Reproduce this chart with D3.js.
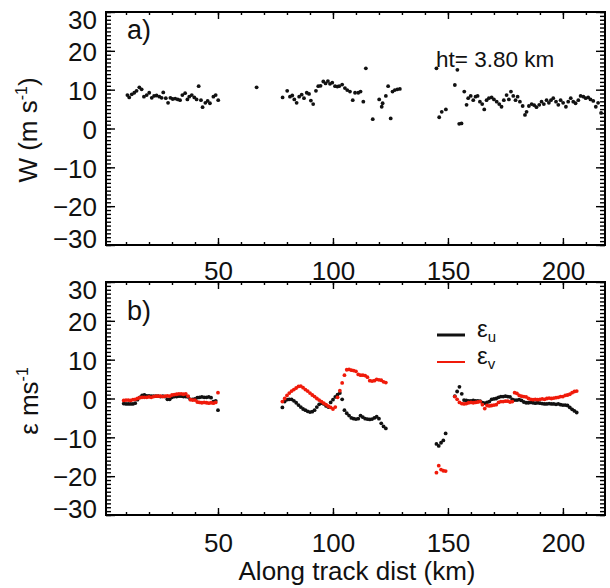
<!DOCTYPE html>
<html lang="en">
<head>
<meta charset="UTF-8">
<title>W and epsilon along track</title>
<script src="https://d3js.org/d3.v7.min.js"></script>
<style>
  body { margin: 0; background: #fff; }
  svg { display: block; font-family: "Liberation Sans", Arial, sans-serif; }
  .frame { fill: none; stroke: #000; stroke-width: 2; }
  .tick line { stroke: #000; stroke-width: 1.4; }
  .tick text { font-size: 26px; fill: #111; font-family: "Liberation Sans", Arial, sans-serif; }
  .lab { font-size: 26px; fill: #111; }
</style>
</head>
<body>
<svg width="610" height="588"></svg>
<script>
// panel a) vertical wind W at ht = 3.80 km
const wDist = [10.6, 11.4, 12.5, 13.6, 14.6, 15.8, 16.8, 17.8, 19.0, 20.1, 21.2, 22.2, 23.3, 24.5, 25.5,
  26.2, 27.3, 28.3, 29.3, 30.3, 31.4, 32.5, 33.5, 34.5, 35.7, 36.7, 37.5, 38.6, 39.7, 40.7,
  41.6, 42.6, 43.3, 44.5, 45.5, 46.5, 48.0, 49.0, 50.1,
  66.8,
  78.1, 80.1, 81.3, 82.3, 83.2, 84.2, 85.3, 86.4, 87.4, 88.6, 89.6, 90.4, 91.4, 92.6, 93.6,
  94.6, 95.8, 96.8, 97.8, 98.7, 99.7, 100.9, 101.9, 102.7, 104.0, 105.2, 106.2, 107.4, 108.6, 109.6,
  111.0, 112.0, 113.2, 114.3, 117.3, 120.1, 121.2, 121.6, 123.0, 124.0, 125.1, 125.9, 126.9, 128.0, 129.1,
  145.0, 146.2, 147.3, 149.1, 153.0, 154.1, 154.9, 155.9, 157.1, 158.1, 158.8, 159.9, 161.0, 162.0, 162.9,
  163.9, 164.9, 165.8, 166.8, 167.8, 169.0, 170.0, 171.2, 172.3, 173.3, 174.3, 175.5, 176.5, 177.4, 178.4,
  179.4, 180.3, 181.3, 182.5, 183.5, 184.2, 185.2, 186.4, 187.5, 188.5, 189.7, 190.7, 191.7, 192.9, 193.9,
  194.8, 195.8, 197.0, 198.0, 199.0, 200.1, 201.3, 202.3, 203.4, 204.5, 205.5, 206.7, 207.7, 208.9, 209.9,
  211.0, 212.0, 213.2, 214.3, 215.3, 216.6];
const wVal = [8.6, 8.0, 8.8, 9.2, 9.7, 10.6, 10.1, 8.2, 8.6, 9.2, 7.9, 8.4, 8.5, 8.2, 7.9,
  9.3, 7.8, 6.6, 7.9, 7.6, 7.7, 7.5, 7.3, 8.6, 9.1, 7.5, 8.2, 8.6, 8.0, 7.5,
  10.9, 7.3, 5.5, 6.6, 7.1, 6.5, 8.2, 8.6, 7.3,
  10.6,
  8.0, 9.7, 8.2, 8.5, 7.5, 6.6, 8.2, 8.7, 7.8, 9.2, 8.9, 7.2, 6.3, 9.7, 10.9,
  11.0, 12.1, 11.6, 12.2, 11.5, 11.8, 10.9, 10.8, 10.9, 11.3, 10.4, 9.9, 9.5, 7.3, 9.2,
  9.2, 9.5, 6.9, 15.5, 2.4, 7.5, 5.6, 6.5, 8.4, 10.9, 2.6, 9.5, 9.9, 10.1, 10.2,
  15.5, 2.9, 4.3, 4.9, 11.2, 15.1, 1.2, 1.3, 9.5, 6.1, 7.8, 8.4, 7.3, 8.2, 8.4,
  6.9, 6.3, 4.9, 7.3, 7.8, 8.0, 7.5, 6.9, 6.3, 5.6, 7.3, 8.6, 7.5, 9.5, 8.4,
  7.3, 8.2, 6.9, 5.8, 3.5, 4.3, 5.8, 6.3, 6.0, 5.5, 6.1, 6.9, 6.3, 7.3, 6.6,
  7.3, 7.8, 6.9, 6.1, 7.3, 6.6, 5.6, 6.9, 7.8, 6.9, 6.5, 7.3, 8.4, 8.2, 7.8,
  8.0, 7.5, 7.1, 5.6, 6.6, 4.0];

// panel b) errors eps_u, eps_v (m/s)
const epsDist = [9, 10, 11, 12, 13, 14, 15, 16, 17, 18, 19, 20, 21, 22, 23, 24, 25, 26, 27, 28, 29,
  30, 31, 32, 33, 34, 35, 36, 37, 38, 39, 40, 41, 42, 43, 44, 45, 46, 47, 48, 49, 50,
  78, 79, 80, 81, 82, 83, 84, 85, 86, 87, 88, 89, 90, 91, 92, 93, 94, 95, 96, 97, 98, 99, 100,
  101, 102, 103, 104, 105, 106, 107, 108, 109, 110, 111, 112, 113, 114, 115, 116, 117, 118, 119, 120,
  121, 122, 123,
  145, 146, 147, 148, 149,
  153, 154, 155, 156, 157, 158, 159, 160, 161, 162, 163, 164, 165, 166, 167, 168, 169, 170, 171, 172,
  173, 174, 175, 176, 177, 178, 179, 180, 181, 182, 183, 184, 185, 186, 187, 188, 189, 190, 191, 192,
  193, 194, 195, 196, 197, 198, 199, 200, 201, 202, 203, 204, 205, 206];
const epsU = [-1.3, -1.4, -1.4, -1.4, -1.4, -1.2, -0.3, 0.3, 0.8, 0.9, 0.7, 0.7, 0.6, 0.6, 0.6, 0.6, 0.5, 0.6, 0.5, -0.2, -0.2,
  0.3, 0.5, 0.5, 0.6, 0.6, 0.5, 0.5, 0.4, -0.2, -0.2, -0.1, 0.2, 0.3, 0.4, 0.3, 0.3, 0.4, 0.2, -0.8, -0.6, -3.0,
  -2.3, -0.8, -0.3, -0.2, -0.2, -0.6, -1.1, -1.7, -2.2, -2.7, -3.0, -3.3, -3.5, -3.4, -3.0, -2.2, -1.5, -1.2, -1.4, -1.9, -2.2, -1.0, -0.3,
  0.4, 1.0, 1.4, -0.2, -3.0, -3.8, -4.4, -5.0, -5.2, -5.3, -5.2, -4.4, -4.8, -5.2, -5.3, -5.4, -5.3, -5.0, -4.7, -5.2,
  -6.4, -7.2, -7.7,
  -11.7, -12.2, -11.4, -10.8, -9.0,
  0.6, 1.8, 3.0, 1.2, -0.4, -0.5, -0.6, -0.6, -0.5, -0.6, -0.6, -0.7, -1.1, -1.2, -1.0, -0.8, -0.2, -0.1, 0.0, 0.3,
  0.5, 0.5, 0.6, 0.5, 0.4, -0.2, -0.4, -0.4, -0.3, -0.5, -0.9, -1.1, -1.1, -1.0, -1.1, -1.2, -1.1, -1.2, -1.3, -1.4,
  -1.4, -1.3, -1.4, -1.4, -1.5, -1.4, -1.6, -1.7, -1.7, -1.8, -2.3, -2.8, -3.2, -3.6];
const epsV = [-0.5, -0.4, -0.4, -0.5, -0.3, -0.2, 0.0, 0.2, 0.3, 0.3, 0.3, 0.4, 0.3, 0.5, 0.6, 0.6, 0.6, 0.5, 0.6, 0.7, 0.6,
  0.9, 1.0, 1.1, 1.2, 1.2, 1.1, 1.2, 0.6, -0.3, -0.4, -0.4, -0.9, -1.0, -1.1, -1.0, -1.1, -1.2, -1.1, -1.2, -1.0, 1.5,
  -0.8, 0.0, 0.8, 1.4, 1.9, 2.3, 2.7, 3.1, 3.2, 2.8, 2.3, 1.9, 1.4, 0.9, 0.5, 0.0, -0.4, -0.8, -1.2, -1.6, -2.0, -2.3, -2.7,
  -2.2, 0.3, 2.0, 4.0, 6.0, 7.4, 7.5, 7.3, 7.2, 7.0, 6.2, 6.0, 6.0, 5.9, 5.5, 4.6, 4.5, 4.6, 4.9, 4.8,
  4.7, 4.3, 4.1,
  -19.1, -17.3, -18.3, -18.6, -18.7,
  0.5, -0.2, -1.0, -1.3, -1.4, -1.3, -1.1, -1.0, -1.1, -1.0, -0.9, -0.8, -1.6, -2.6, -1.8, -1.9, -1.8, -1.7, -1.6, -1.0,
  -0.8, -0.8, -0.7, -0.7, -0.9, -0.8, 1.5, 1.3, 0.8, 0.6, 0.5, 0.4, 0.0, -0.2, -0.3, -0.2, -0.3, -0.2, -0.1, -0.2,
  0.0, 0.1, 0.0, 0.1, 0.2, 0.3, 0.5, 0.5, 0.8, 0.9, 1.1, 1.5, 1.8, 1.9];

const xTicks = [50, 100, 150, 200];
const yTicks = [-30, -20, -10, 0, 10, 20, 30];

const svg = d3.select("svg");
const left = 106, right = 605;
const x = d3.scaleLinear().domain([1.3, 218.3]).range([left, right]);
const yA = d3.scaleLinear().domain([-30, 30]).range([245, 12]);
const yB = d3.scaleLinear().domain([-30, 30]).range([515, 282]);

function drawAxes(y, labelPad) {
  const top = y.range()[1], bottom = y.range()[0];
  const minorX = d3.range(10, 220, 10);
  const minorY = d3.range(-30, 31, 1);
  const clean = g => g.select(".domain").remove();

  // bottom (with labels) and top
  svg.append("g").attr("transform", `translate(0,${bottom})`)
    .call(d3.axisBottom(x).tickValues(minorX).tickSize(-3).tickFormat("")).call(clean);
  svg.append("g").attr("transform", `translate(0,${bottom})`)
    .call(d3.axisBottom(x).tickValues(xTicks).tickSize(-7).tickPadding(labelPad)).call(clean);
  svg.append("g").attr("transform", `translate(0,${top})`)
    .call(d3.axisTop(x).tickValues(minorX).tickSize(-3).tickFormat("")).call(clean);
  svg.append("g").attr("transform", `translate(0,${top})`)
    .call(d3.axisTop(x).tickValues(xTicks).tickSize(-7).tickFormat("")).call(clean);

  // left (with labels) and right
  svg.append("g").attr("transform", `translate(${left},0)`)
    .call(d3.axisLeft(y).tickValues(minorY).tickSize(-5).tickFormat("")).call(clean);
  svg.append("g").attr("transform", `translate(${left},0)`)
    .call(d3.axisLeft(y).tickValues(yTicks).tickSize(-9).tickPadding(9)).call(clean)
    .selectAll(".tick text")
    // end labels sit inside the frame, like in the original
    .attr("y", d => d === 30 ? 8.5 : d === -30 ? -6 : 1.5);
  svg.append("g").attr("transform", `translate(${right},0)`)
    .call(d3.axisRight(y).tickValues(minorY).tickSize(-5).tickFormat("")).call(clean);
  svg.append("g").attr("transform", `translate(${right},0)`)
    .call(d3.axisRight(y).tickValues(yTicks).tickSize(-9).tickFormat("")).call(clean);

  svg.append("rect").attr("class", "frame")
    .attr("x", left).attr("y", top)
    .attr("width", right - left).attr("height", bottom - top);
}

function dots(xs, ys, y, color) {
  svg.append("g").selectAll("circle")
    .data(xs.map((d, i) => [d, ys[i]]))
    .enter()
    .append("circle")
    .attr("cx", d => x(d[0]))
    .attr("cy", d => y(d[1]))
    .attr("r", 1.9)
    .attr("fill", color);
}

// ---- panel a
drawAxes(yA, 17);
dots(wDist, wVal, yA, "#111");
svg.append("text").attr("class", "lab").attr("x", 127).attr("y", 39)
  .style("font-size", "27px").text("a)");
svg.append("text").attr("class", "lab").attr("x", 436).attr("y", 67)
  .style("font-size", "22.5px").text("ht= 3.80 km");

const wLab = svg.append("text").attr("class", "lab")
  .attr("transform", "translate(37,130) rotate(-90)")
  .attr("text-anchor", "middle");
wLab.append("tspan").text("W (m s");
wLab.append("tspan").attr("dy", -10).style("font-size", "16px").text("-1");
wLab.append("tspan").attr("dy", 10).text(")");

// ---- panel b
drawAxes(yB, 19);
dots(epsDist, epsU, yB, "#111");
dots(epsDist, epsV, yB, "#f01a0a");
svg.append("text").attr("class", "lab").attr("x", 127).attr("y", 320)
  .style("font-size", "27px").text("b)");

const eLab = svg.append("text").attr("class", "lab")
  .attr("transform", "translate(38,401) rotate(-90)")
  .attr("text-anchor", "middle");
eLab.append("tspan").text("\u03b5 ms");
eLab.append("tspan").attr("dy", -10).style("font-size", "16px").text("-1");

// legend
const legend = [["u", "#111", 3], ["v", "#f01a0a", 2]];
legend.forEach((d, i) => {
  const ly = 335 + i * 27;
  svg.append("line").attr("x1", 437).attr("x2", 465).attr("y1", ly).attr("y2", ly)
    .attr("stroke", d[1]).attr("stroke-width", d[2]);
  const t = svg.append("text").attr("class", "lab").attr("x", 477).attr("y", ly + 2)
    .style("font-size", "24px");
  t.append("tspan").text("\u03b5");
  t.append("tspan").attr("dy", 5).style("font-size", "15px").text(d[0]);
});

svg.append("text").attr("class", "lab").attr("x", 357).attr("y", 580)
  .attr("text-anchor", "middle").text("Along track dist (km)");
</script>
</body>
</html>
